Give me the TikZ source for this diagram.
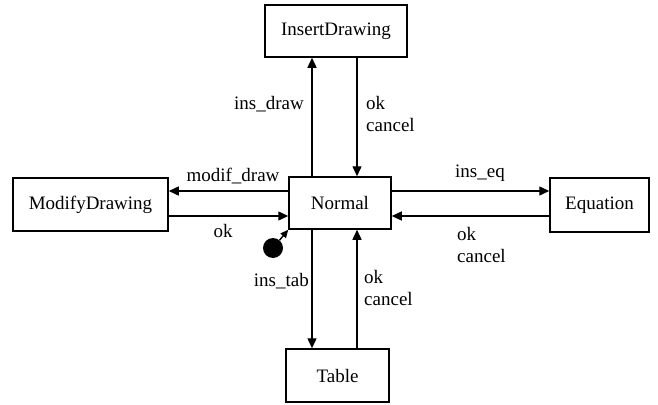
\documentclass[tikz,border=0pt]{standalone}
\usepackage{fontspec}
\setmainfont{Liberation Serif}
\usetikzlibrary{arrows.meta}
\begin{document}
\begin{tikzpicture}[x=1pt,y=-1pt,
  state/.style={draw,line width=1.5pt,rectangle,inner sep=0pt,font=\fontsize{19}{22}\selectfont},
  trans/.style={line width=1.4pt,-{Triangle[length=10pt,width=9pt]}},
  lbl/.style={inner sep=0pt,font=\fontsize{19}{22.5}\selectfont,align=left}]
\useasboundingbox (0,0) rectangle (658,404);
% states
\node[state,minimum width=102pt,minimum height=52pt] (norm) at (340,203) {Normal};
\node[state,minimum width=142pt,minimum height=52pt] (ins) at (336,31) {InsertDrawing};
\node[state,minimum width=155pt,minimum height=53pt] (mod) at (90.5,204.5) {ModifyDrawing};
\node[state,minimum width=103pt,minimum height=53pt] (tab) at (337.5,375.5) {Table};
\node[state,minimum width=99pt,minimum height=54pt] (eq) at (599.5,205) {Equation};
% lanes
\coordinate (xl) at (312,0);
\coordinate (xr) at (357,0);
\coordinate (yh) at (0,191);
\coordinate (yl) at (0,216);
% transitions
\draw[trans] (norm.north -| xl) -- (ins.south -| xl);
\draw[trans] (ins.south -| xr) -- (norm.north -| xr);
\draw[trans] (norm.west |- yh) -- (mod.east |- yh);
\draw[trans] (mod.east |- yl) -- (norm.west |- yl);
\draw[trans] (norm.east |- yh) -- (eq.west |- yh);
\draw[trans] (eq.west |- yl) -- (norm.east |- yl);
\draw[trans] (norm.south -| xl) -- (tab.north -| xl);
\draw[trans] (tab.north -| xr) -- (norm.south -| xr);
% initial state
\node[circle,fill=black,minimum size=20pt,inner sep=0pt] (init) at (273,248) {};
\draw[line width=1.4pt,-{Triangle[length=8pt,width=7pt]}] (init) -- (norm.south west);
% labels
\node[lbl,anchor=east] (l1) at (304,104) {ins\_draw};
\node[lbl,anchor=west] (l2) at (366,114) {ok\\cancel};
\node[lbl] (l3) at (233,176) {modif\_draw};
\node[lbl] (l4) at (223,231) {ok};
\node[lbl] (l5) at (480,173) {ins\_eq};
\node[lbl,anchor=west] (l6) at (457,245) {ok\\cancel};
\node[lbl,anchor=east] (l7) at (309,281) {ins\_tab};
\node[lbl,anchor=west] (l8) at (364,288) {ok\\cancel};
\end{tikzpicture}
\end{document}
